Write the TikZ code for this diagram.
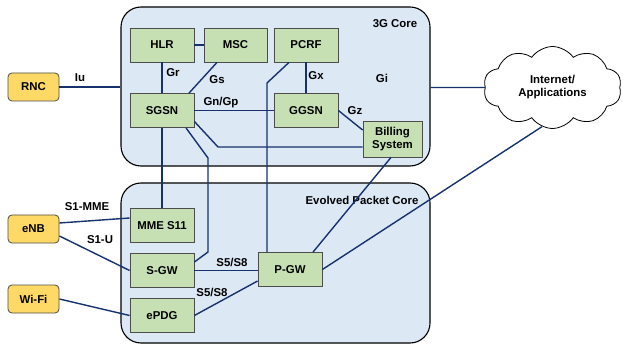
\documentclass[tikz,border=0pt]{standalone}
\usepackage{fontspec}
\setmainfont{Liberation Sans}
\usetikzlibrary{shapes.symbols}

\definecolor{corefill}{RGB}{221,232,245}
\definecolor{elemfill}{RGB}{198,224,180}
\definecolor{radiofill}{RGB}{255,217,102}
\definecolor{linkcol}{RGB}{22,50,108}

\tikzset{
  core/.style={draw=black,line width=1.1pt,fill=corefill,rounded corners=20pt},
  elem/.style={draw=black!70,line width=.8pt,fill=elemfill,align=center},
  radio/.style={draw=black!70,line width=.8pt,fill=radiofill,rounded corners=4pt},
  lnk/.style={draw=linkcol,line width=1.4pt},
}

\begin{document}
\begin{tikzpicture}[x=1pt,y=-1pt,font=\fontsize{11.4}{13}\selectfont\bfseries,inner sep=0pt]

      \useasboundingbox (0,0) rectangle (623,347);

      % core networks
      \node[core,minimum width=309pt,minimum height=159pt] (core3g) at (275.5,86.5) {};
      \node[core,minimum width=309pt,minimum height=160pt] (epc) at (275.5,263) {};
      \node at (395,24) {3G Core};
      \node at (362,200) {Evolved Packet Core};

      % access side
      \begin{scope}[every node/.style={radio,minimum width=51pt,minimum height=28pt}]
        \node (RNC)  at (33.5,87)  {RNC};
        \node (eNB)  at (33.5,229) {eNB};
        \node (WiFi) at (33.5,299) {Wi-Fi};
      \end{scope}

      \node[draw=black,line width=.8pt,fill=white,cloud,cloud puffs=10,cloud puff arc=110,
            aspect=1.7,minimum width=138pt,minimum height=82pt,align=center]
            (cloud) at (552.5,87.5) {Internet/\\Applications};

      % core elements
      \begin{scope}[every node/.style={elem,minimum width=64pt,minimum height=34pt}]
        \node (HLR)  at (162,45)    {HLR};
        \node (MSC)  at (235.5,45)  [minimum width=63pt] {MSC};
        \node (PCRF) at (306,45)    {PCRF};
        \node (SGSN) at (162,110.5) {SGSN};
        \node (GGSN) at (306,110.5) {GGSN};
        \node (Bill) at (392.5,139) [minimum width=59pt,minimum height=36pt] {Billing\\System};
        \node (MME)  at (162,225.5) {MME S11};
        \node (SGW)  at (162,270.5) {S-GW};
        \node (ePDG) at (162,315.5) {ePDG};
        \node (PGW)  at (290,269.5) {P-GW};
      \end{scope}

      \coordinate (b1) at (218,147);
      \coordinate (b2) at (208,158);
      \coordinate (b3) at (208,252);
      \coordinate (b4) at (267,83);

      \begin{scope}[every path/.style={lnk}]
        \draw (RNC) -- (RNC -| core3g.west);
        \draw (HLR) -- (MSC);
        \draw (HLR) -- (SGSN);
        \draw ([xshift=-18.5pt]MSC.south) -- ([xshift=27pt]SGSN.north);
        \draw (SGSN) -- (GGSN);
        \draw (PCRF) -- (GGSN);
        \draw (core3g.east |- cloud) -- (cloud.west);
        \draw (GGSN.east) -- ([yshift=9pt]Bill.west);
        \draw ([yshift=-11pt]SGSN.east) -- (b1) -- (b1 -| Bill.west);
        \draw (SGSN.south) -- (MME.north);
        \draw ([xshift=24pt]SGSN.south) -- (b2) -- (b3) -- ([yshift=8.5pt]SGW.east);
        \draw ([xshift=-17pt]PCRF.south) -- (b4) -- (b4 |- PGW.north);
        \draw ([xshift=-1.5pt]Bill.south) -- ([xshift=23pt]PGW.north);
        \draw (PGW.east) -- (cloud.255);
        \draw ([yshift=6pt]eNB.east) -- ([yshift=7.5pt]MME.west);
        \draw ([yshift=-7pt]eNB.east) -- (SGW.west);
        \draw (SGW.east) -- (SGW.east -| PGW.west);
        \draw (ePDG.east) -- ([yshift=-11.5pt]PGW.west);
        \draw (WiFi.east) -- (ePDG.west);
      \end{scope}

      % interface labels
      \node at (80,78)   {Iu};
      \node at (173,73)  {Gr};
      \node at (217,80)  {Gs};
      \node at (221,103) {Gn/Gp};
      \node at (316,76)  {Gx};
      \node at (382,78)  {Gi};
      \node at (355,111) {Gz};
      \node at (87,207)  {S1-MME};
      \node at (100,240) {S1-U};
      \node at (232,262) {S5/S8};
      \node at (212,292) {S5/S8};

    \end{tikzpicture}
\end{document}
